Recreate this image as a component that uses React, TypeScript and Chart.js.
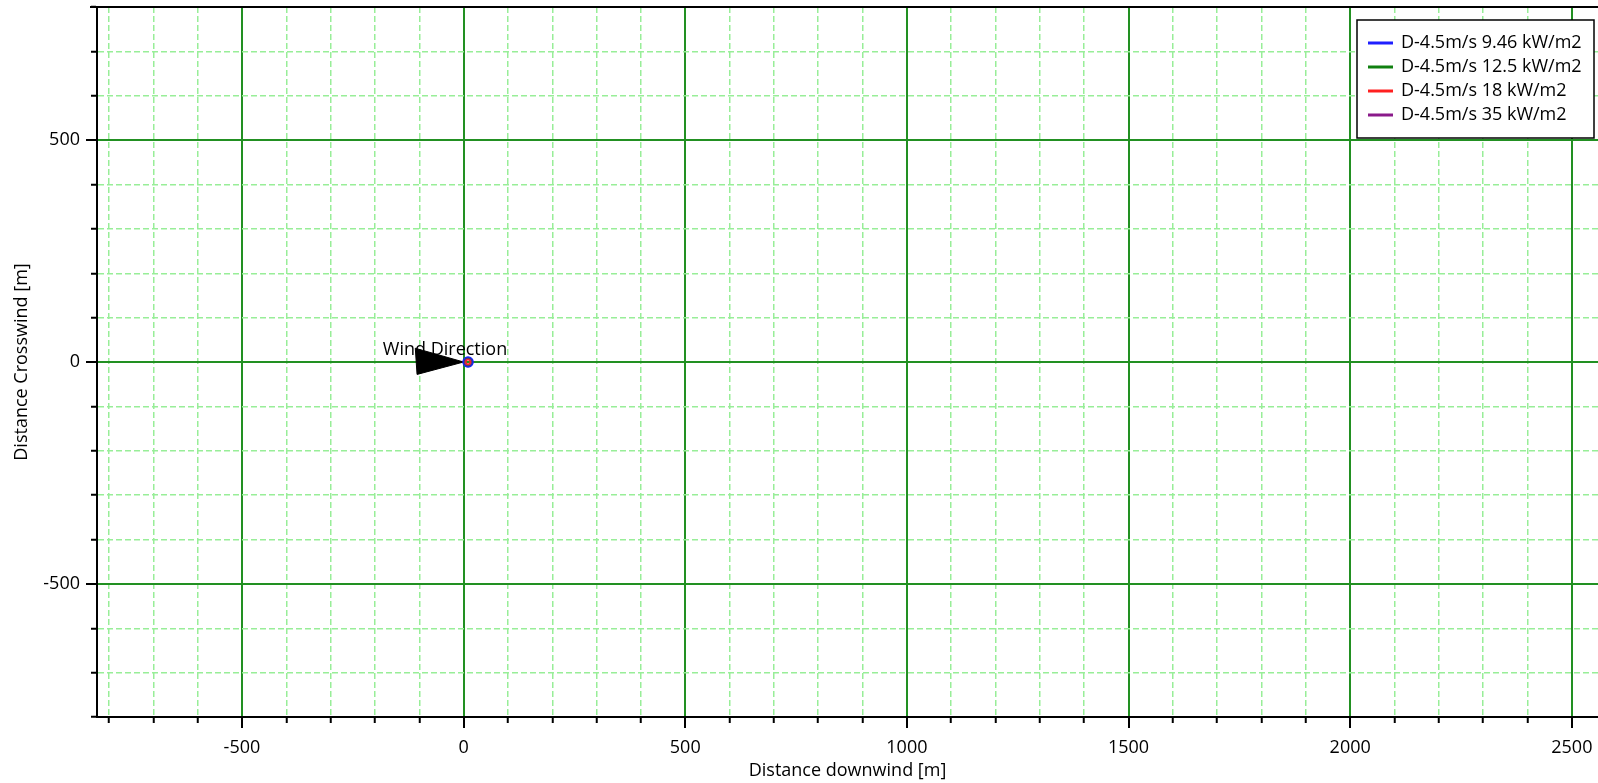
import React, { useEffect, useRef } from "react";
import { Chart, registerables } from "chart.js";

Chart.register(...registerables);

// ---- data ----
const seriesLabels = [
  "D-4.5m/s 9.46 kW/m2",
  "D-4.5m/s 12.5 kW/m2",
  "D-4.5m/s 18 kW/m2",
  "D-4.5m/s 35 kW/m2",
];
const contourX = [10, 10, 10, 10];
const contourY = [0, 0, 0, 0];
const windArrowX = [-109, 0, -105, -109];
const windArrowY = [31, 0, -28, 31];
const windLabel = "Wind Direction";
const windLabelPos = [-42, 28];
const xRange = [-827, 2559];
const yRange = [-800, 800];
const xMajorLabels = [-500, 0, 500, 1000, 1500, 2000, 2500];
const yMajorLabels = [-500, 0, 500];
const xTitle = "Distance downwind [m]";
const yTitle = "Distance Crosswind [m]";

// ---- styles ----
const seriesColors = ["#1f1fff", "#108010", "#ff2020", "#8a1a8a"];
const seriesRadii = [5, 4.6, 2.2, 3.8];
const seriesWidths = [1.5, 1.5, 1.5, 2.6];
const FONT = "'Open Sans', 'Noto Sans', sans-serif";
const FS = 18;
const majorGrid = "#229022";
const minorGrid = "#98ee98";

export default function App() {
  const ref = useRef<HTMLCanvasElement | null>(null);

  useEffect(() => {
    document.body.style.margin = "0";
    document.body.style.overflow = "hidden";
    const canvas = ref.current;
    if (!canvas) return;

    const datasets: any[] = seriesLabels.map((label, i) => ({
      label,
      data: [{ x: contourX[i], y: contourY[i] }],
      borderColor: seriesColors[i],
      backgroundColor: seriesColors[i],
      pointBackgroundColor: "transparent",
      pointBorderColor: seriesColors[i],
      pointBorderWidth: seriesWidths[i],
      pointRadius: seriesRadii[i],
      showLine: false,
    }));
    datasets.push({
      label: "__arrow",
      data: windArrowX.map((x, i) => ({ x, y: windArrowY[i] })),
      showLine: true,
      borderColor: "#000",
      backgroundColor: "#000",
      borderWidth: 1,
      pointRadius: 0,
      fill: "shape",
      order: 10,
    });

    const isMajor = (v: number) => Math.round(v) % 500 === 0;

    const windLabelPlugin = {
      id: "windLabel",
      beforeDatasetsDraw(chart: any) {
        const { ctx, scales } = chart;
        const px = scales.x.getPixelForValue(windLabelPos[0]);
        const py = scales.y.getPixelForValue(windLabelPos[1]);
        ctx.save();
        ctx.font = `${FS}px ${FONT}`;
        ctx.fillStyle = "#000";
        ctx.textAlign = "center";
        ctx.textBaseline = "middle";
        ctx.fillText(windLabel, px, py);
        ctx.restore();
      },
    };

    const framePlugin = {
      id: "frame",
      afterDraw(chart: any) {
        const { ctx, chartArea } = chart;
        ctx.save();
        ctx.strokeStyle = "#000";
        ctx.lineWidth = 2;
        ctx.beginPath();
        ctx.moveTo(chartArea.left - 7, chartArea.top);
        ctx.lineTo(chartArea.right, chartArea.top);
        ctx.stroke();
        ctx.restore();
      },
    };

    const legendPlugin = {
      id: "boxLegend",
      afterDraw(chart: any) {
        const { ctx } = chart;
        const bx = 1357, by = 20, bw = 237, bh = 118;
        ctx.save();
        ctx.fillStyle = "#fff";
        ctx.fillRect(bx, by, bw, bh);
        ctx.strokeStyle = "#000";
        ctx.lineWidth = 1.5;
        ctx.strokeRect(bx, by, bw, bh);
        ctx.font = `${FS}px ${FONT}`;
        ctx.textBaseline = "middle";
        ctx.textAlign = "left";
        const items = chart.data.datasets.filter((d: any) => d.label !== "__arrow");
        items.forEach((d: any, i: number) => {
          const y = by + 23 + i * 24;
          ctx.strokeStyle = d.borderColor;
          ctx.lineWidth = 3;
          ctx.beginPath();
          ctx.moveTo(bx + 11, y);
          ctx.lineTo(bx + 36, y);
          ctx.stroke();
          ctx.fillStyle = "#000";
          ctx.fillText(d.label, bx + 44, y);
        });
        ctx.restore();
      },
    };

    const chart = new Chart(canvas, {
      type: "scatter",
      data: { datasets },
      options: {
        animation: false,
        responsive: false,
        devicePixelRatio: 1,
        layout: { autoPadding: false, padding: { top: 7, right: 0, left: 0, bottom: 0 } },
        plugins: {
          legend: { display: false },
          tooltip: { enabled: false },
          title: { display: false },
        },
        scales: {
          x: {
            type: "linear",
            min: xRange[0],
            max: xRange[1],
            afterFit: (s: any) => {
              s.height = 66;
              s.paddingLeft = 0;
              s.paddingRight = 0;
            },
            ticks: {
              stepSize: 100,
              includeBounds: false,
              autoSkip: false,
              maxRotation: 0,
              minRotation: 0,
              padding: 9,
              color: "#000",
              font: { family: FONT, size: FS },
              callback: (v: any) => (xMajorLabels.includes(Math.round(v)) ? String(Math.round(v)) : ""),
            },
            grid: {
              color: (c: any) => (c.tick && isMajor(c.tick.value) ? majorGrid : minorGrid),
              lineWidth: (c: any) => (c.tick && isMajor(c.tick.value) ? 2 : 1.5),
              tickLength: 11,
              tickColor: "#000",
              tickWidth: 2,
              tickBorderDash: (c: any) => (c.tick && isMajor(c.tick.value) ? [] : [5, 100]),
            },
            border: {
              display: true,
              color: "#000",
              width: 2,
              dash: (c: any) => (c.tick && !isMajor(c.tick.value) ? [6, 3] : []),
            },
            title: {
              display: true,
              text: xTitle,
              color: "#000",
              font: { family: FONT, size: FS },
              padding: { top: 0, bottom: 1 },
            },
          },
          y: {
            type: "linear",
            min: yRange[0],
            max: yRange[1],
            afterFit: (s: any) => {
              s.width = 97;
              s.paddingTop = 0;
              s.paddingBottom = 0;
            },
            ticks: {
              stepSize: 100,
              includeBounds: false,
              autoSkip: false,
              padding: 6,
              color: "#000",
              font: { family: FONT, size: FS },
              callback: (v: any) => (yMajorLabels.includes(Math.round(v)) ? String(Math.round(v)) : ""),
            },
            grid: {
              color: (c: any) => (c.tick && isMajor(c.tick.value) ? majorGrid : minorGrid),
              lineWidth: (c: any) => (c.tick && isMajor(c.tick.value) ? 2 : 1.5),
              tickLength: 11,
              tickColor: "#000",
              tickWidth: 2,
              tickBorderDash: (c: any) => (c.tick && isMajor(c.tick.value) ? [] : [0, 5, 6, 100]),
            },
            border: {
              display: true,
              color: "#000",
              width: 2,
              dash: (c: any) => (c.tick && !isMajor(c.tick.value) ? [6, 3] : []),
            },
            title: {
              display: true,
              text: yTitle,
              color: "#000",
              font: { family: FONT, size: FS },
              padding: { top: 11, bottom: 0 },
            },
          },
        },
      },
      plugins: [windLabelPlugin, framePlugin, legendPlugin],
    } as any);

    return () => chart.destroy();
  }, []);

  return (
    <div style={{ width: 1598, height: 783, position: "relative", background: "#fff" }}>
      <canvas ref={ref} width={1598} height={783} style={{ display: "block" }} />
    </div>
  );
}
